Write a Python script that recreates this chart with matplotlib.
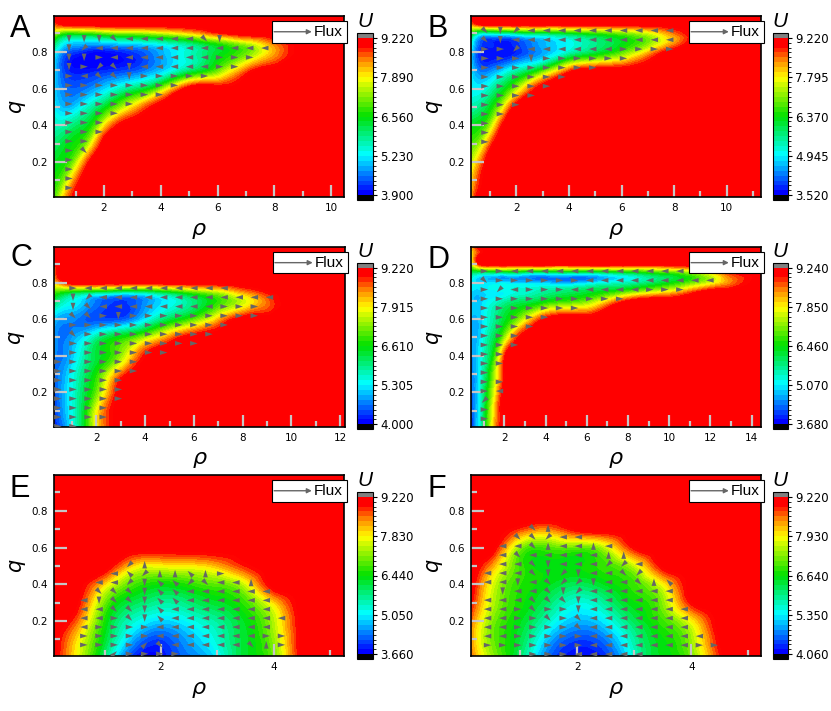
import numpy as np
import matplotlib
matplotlib.use("Agg")
import matplotlib.pyplot as plt
from matplotlib import colors, cm
from matplotlib.tri import Triangulation, UniformTriRefiner, LinearTriInterpolator
from matplotlib.ticker import MultipleLocator, FormatStrFormatter
from matplotlib.patches import Rectangle

# ---------------------------------------------------------------------------
# Potential landscape U(rho, q) on a coarse grid.
# Rows go from small q (bottom) to large q (top).  A row that stops early
# continues in the red plateau, i.e. at the top of the colour scale.
# ---------------------------------------------------------------------------
rho_A = [0.24, 0.5, 1.0, 1.5, 2, 3, 4, 5, 6, 7, 8, 9, 10.45]
q_A = [0.01, 0.1, 0.2, 0.3, 0.4, 0.5, 0.6, 0.7, 0.8, 0.85, 0.9, 0.95, 0.995]
U_A = [
    [6.8, 7.8, 9.1],
    [6.6, 7.0, 8.6],
    [6.4, 6.5, 7.4, 9.0],
    [6.0, 6.2, 6.6, 7.6],
    [5.6, 5.6, 6.0, 6.5, 7.9],
    [5.2, 4.9, 5.0, 5.6, 6.3, 8.0],
    [5.0, 4.6, 4.4, 4.6, 5.0, 5.9, 7.2],
    [5.0, 4.4, 3.95, 3.95, 4.05, 4.3, 4.9, 5.9, 7.0, 8.6],
    [5.4, 4.7, 4.2, 3.95, 3.9, 4.2, 4.8, 5.5, 6.3, 7.0, 8.3],
    [6.2, 5.4, 5.0, 4.9, 5.0, 5.2, 5.5, 6.0, 6.8, 7.6, 8.6],
    [7.4, 6.8, 6.6, 6.7, 7.0, 7.2, 7.5, 8.0, 8.8],
    [8.6, 9.0],
    [9.22],
]
ticks_A = [3.900, 5.230, 6.560, 7.890, 9.220]

rho_B = [0.28, 0.5, 1, 1.5, 2, 3, 4, 5, 6, 7, 8, 9, 11.3]
q_B = [0.01, 0.1, 0.2, 0.3, 0.4, 0.5, 0.6, 0.7, 0.8, 0.85, 0.9, 0.95, 0.995]
U_B = [
    [8.2, 9.0],
    [7.9, 8.6],
    [7.4, 8.0],
    [6.8, 7.0, 8.6],
    [6.2, 6.3, 7.2, 9.0],
    [5.4, 5.5, 6.2, 7.6],
    [5.0, 4.9, 5.3, 6.1, 7.2],
    [4.8, 4.3, 4.2, 4.7, 5.3, 6.6, 8.6],
    [4.8, 4.0, 3.6, 3.55, 3.7, 4.4, 5.2, 5.9, 6.7, 8.0],
    [5.2, 4.3, 3.7, 3.6, 3.8, 4.5, 5.0, 5.6, 6.2, 7.0, 8.3],
    [6.4, 5.5, 5.2, 5.3, 5.5, 5.8, 6.1, 6.5, 6.9, 7.5, 8.5],
    [8.2, 8.8],
    [9.22],
]
ticks_B = [3.520, 4.945, 6.370, 7.795, 9.220]

rho_C = [0.26, 0.5, 1, 1.5, 2, 3, 4, 5, 6, 7, 8, 9, 10, 12.2]
q_C = [0.01, 0.1, 0.2, 0.3, 0.4, 0.5, 0.6, 0.7, 0.75, 0.8, 0.85, 0.9, 0.995]
U_C = [
    [4.1, 4.4, 5.3, 6.4, 7.9],
    [4.2, 4.6, 5.4, 6.4, 7.8],
    [4.4, 4.7, 5.4, 6.2, 7.1, 9.2],
    [4.6, 4.7, 5.3, 6.0, 6.7, 8.6],
    [4.7, 4.6, 5.0, 5.7, 6.3, 7.3, 9.0],
    [4.8, 4.6, 4.8, 5.2, 5.8, 6.6, 7.4, 8.5],
    [5.0, 4.8, 4.7, 4.5, 4.4, 4.4, 5.2, 6.2, 7.0, 8.2],
    [6.2, 5.8, 5.4, 5.0, 4.6, 4.3, 4.7, 5.3, 6.0, 6.8, 7.6, 8.6],
    [7.0, 6.8, 6.5, 6.3, 6.2, 5.9, 6.0, 6.5, 7.1, 7.6, 8.4, 9.0],
    [8.0, 8.5],
    [8.4],
    [9.0],
    [9.22],
]
ticks_C = [4.000, 5.305, 6.610, 7.915, 9.220]

rho_D = [0.38, 0.7, 1, 1.5, 2, 3, 4, 6, 8, 10, 11, 12, 13, 14.46]
q_D = [0.01, 0.1, 0.2, 0.3, 0.4, 0.5, 0.6, 0.7, 0.75, 0.8, 0.85, 0.9, 0.95, 0.995]
U_D = [
    [3.9, 4.8, 5.9, 8.2],
    [4.1, 4.8, 5.9, 8.0],
    [4.3, 4.8, 5.8, 7.6],
    [4.4, 4.8, 5.6, 7.2, 9.0],
    [4.5, 4.8, 5.4, 6.6, 8.8],
    [4.6, 4.7, 5.2, 6.0, 7.2],
    [4.7, 4.7, 5.0, 5.6, 6.2, 7.6, 9.1],
    [4.8, 4.7, 4.9, 5.2, 5.5, 5.9, 6.3, 7.0, 9.0],
    [4.9, 4.8, 4.9, 5.0, 5.1, 5.3, 5.6, 6.1, 6.9, 7.9, 8.6],
    [5.0, 4.9, 4.9, 4.9, 4.9, 4.8, 4.7, 4.8, 5.4, 6.3, 6.9, 7.6, 8.5],
    [5.8, 5.5, 5.4, 5.4, 5.4, 5.3, 5.2, 5.3, 5.8, 6.5, 7.0, 7.8, 8.8],
    [7.2, 8.6],
    [7.8, 8.8],
    [8.2, 9.0],
]
ticks_D = [3.680, 5.070, 6.460, 7.850, 9.240]

rho_E = [0.1, 0.5, 1, 1.5, 2, 2.5, 3, 3.5, 4, 4.5, 5.25]
q_E = [0.01, 0.1, 0.2, 0.3, 0.4, 0.5, 0.6, 0.8, 0.995]
U_E = [
    [9.22, 7.8, 5.8, 3.9, 3.7, 4.3, 5.0, 6.2, 7.0, 9.22, 9.22],
    [9.22, 8.0, 6.2, 4.6, 4.0, 4.6, 5.3, 6.2, 7.2, 9.22, 9.22],
    [9.22, 8.6, 6.5, 5.3, 4.8, 5.1, 5.6, 6.3, 7.4, 9.22, 9.22],
    [9.22, 9.1, 7.0, 6.0, 5.6, 5.8, 6.2, 6.7, 8.0, 9.22, 9.22],
    [9.22, 9.22, 8.0, 6.8, 6.4, 6.6, 6.9, 7.6, 9.22, 9.22, 9.22],
    [9.22, 9.22, 9.22, 8.0, 7.8, 7.9, 8.2, 8.9, 9.22, 9.22, 9.22],
    [9.22, 9.22, 9.22, 9.22, 9.22, 9.22, 9.22, 9.22, 9.22, 9.22, 9.22],
    [9.22, 9.22, 9.22, 9.22, 9.22, 9.22, 9.22, 9.22, 9.22, 9.22, 9.22],
    [9.22, 9.22, 9.22, 9.22, 9.22, 9.22, 9.22, 9.22, 9.22, 9.22, 9.22],
]
ticks_E = [3.660, 5.050, 6.440, 7.830, 9.220]

rho_F = [0.14, 0.5, 1, 1.5, 2, 2.5, 3, 3.5, 4, 4.5, 5.22]
q_F = [0.01, 0.1, 0.2, 0.3, 0.4, 0.5, 0.6, 0.7, 0.8, 0.995]
U_F = [
    [8.6, 7.4, 6.1, 4.6, 4.1, 4.3, 5.6, 6.5, 7.2, 8.9, 9.22],
    [8.4, 7.2, 6.3, 5.0, 4.4, 4.7, 5.8, 6.6, 7.4, 9.1, 9.22],
    [8.6, 7.3, 6.5, 5.6, 5.0, 5.3, 6.2, 6.9, 7.9, 9.22, 9.22],
    [9.0, 7.6, 6.7, 6.1, 5.5, 5.9, 6.6, 7.3, 9.0, 9.22, 9.22],
    [9.22, 7.8, 6.8, 6.5, 6.2, 6.5, 6.9, 7.9, 9.22, 9.22, 9.22],
    [9.22, 8.4, 6.9, 6.6, 6.6, 6.9, 7.6, 9.1, 9.22, 9.22, 9.22],
    [9.22, 9.22, 7.3, 7.0, 7.1, 7.6, 9.0, 9.22, 9.22, 9.22, 9.22],
    [9.22, 9.22, 8.8, 8.5, 9.1, 9.22, 9.22, 9.22, 9.22, 9.22, 9.22],
    [9.22, 9.22, 9.22, 9.22, 9.22, 9.22, 9.22, 9.22, 9.22, 9.22, 9.22],
    [9.22, 9.22, 9.22, 9.22, 9.22, 9.22, 9.22, 9.22, 9.22, 9.22, 9.22],
]
ticks_F = [4.060, 5.350, 6.640, 7.930, 9.220]

# ---------------------------------------------------------------------------
# Flux arrows, one string per row of the arrow grid (top row first).
# Numpad codes: 6 right, 4 left, 8 up, 2 down, 9/7/1/3 diagonals, '.' none.
# Grid: (first rho, rho step, lowest q, q step)
# ---------------------------------------------------------------------------
flux_A = ["22234444432", "21444444444444", "2264444444666", "261324444466",
          "6433266666", "66666666", "6666666", "66666", "6666", "666", "666",
          "66", "63", "6", "6", "6", "6"]
grid_A = (0.77, 0.53, 0.06, 0.0507)

flux_B = ["3214444444444", "3244444444444", "6614444446666", "6662666666",
          "66666666", "666666", "66666", "6666", "666", "66", "6", "6", "6"]
grid_B = (0.81, 0.585, 0.31, 0.0505)

flux_C = [".64444444444", ".21444444444444", ".2344444444666", ".3362666666666",
          ".66666666666", ".3666666666", ".666666666", ".6666666", "666666",
          "666666", "66666", "66666", "66666", "6666", "6666", "66"]
grid_C = (0.42, 0.62, 0.014, 0.0504)

flux_D = ["66444444444444", "3666666444444444", "61466644444666", "6666666666",
          "6666666", "66666", "6666", "666", "666", "66", "66", "6", "66", "64",
          "1", "6", "6"]
grid_D = (1.03, 0.73, 0.055, 0.0505)

flux_E = ["...18", "..47188786", ".44127713448", ".333277444444", "4233277444444",
          "4433274444444", "44632744444444", "4666644444444", "66666444444466",
          "66669344444386", "..96666"]
grid_E = (0.63, 0.27, 0.022, 0.0485)

flux_F = ["...38", "..33144", ".44384484", ".434444488", ".4432444114",
          "44432124431", "4424311244387", ".244321444444", "4443332444444",
          "44636624444444", "44663634444444", "44666634444444", "446666644444444",
          "6666666444444466", "...66644444"]
grid_F = (0.43, 0.265, 0.02, 0.049)

panels = [
    ("A", rho_A, q_A, U_A, ticks_A, flux_A, grid_A),
    ("B", rho_B, q_B, U_B, ticks_B, flux_B, grid_B),
    ("C", rho_C, q_C, U_C, ticks_C, flux_C, grid_C),
    ("D", rho_D, q_D, U_D, ticks_D, flux_D, grid_D),
    ("E", rho_E, q_E, U_E, ticks_E, flux_E, grid_E),
    ("F", rho_F, q_F, U_F, ticks_F, flux_F, grid_F),
]

ANGLE = {"6": 0, "9": 45, "8": 90, "7": 135, "4": 180, "1": 225, "2": 270, "3": 315}
ARROW = "#666666"

base = colors.LinearSegmentedColormap.from_list(
    "u_rainbow",
    [(0.0, "#0000ff"), (0.25, "#00ffff"), (0.5, "#00e000"), (0.75, "#ffff00"),
     (0.87, "#ff8000"), (0.96, "#ff0000"), (1.0, "#ff0000")])
cmap_plot = base.copy()
cmap_plot.set_under("#0000ff")
cmap_plot.set_over("#ff0000")
cmap_bar = base.copy()
cmap_bar.set_under("black")
cmap_bar.set_over("#808080")


def smooth_field(rho, q, rows, top):
    rho = np.asarray(rho, float)
    q = np.asarray(q, float)
    Z = np.array([list(r) + [top] * (len(rho) - len(r)) for r in rows], float)
    Z = np.minimum(Z, top)
    X, Y = np.meshgrid(rho, q)
    nx, ny = len(rho), len(q)
    idx = np.arange(nx * ny).reshape(ny, nx)
    a = idx[:-1, :-1].ravel()
    b = idx[:-1, 1:].ravel()
    c = idx[1:, 1:].ravel()
    d = idx[1:, :-1].ravel()
    tris = np.concatenate([np.stack([a, b, c], 1), np.stack([a, c, d], 1)])
    span = rho[-1] - rho[0]
    tri_n = Triangulation((X.ravel() - rho[0]) / span, Y.ravel(), tris)
    refiner = UniformTriRefiner(tri_n)
    fine, z_cub = refiner.refine_field(Z.ravel(), subdiv=3)
    _, z_lin = refiner.refine_field(
        Z.ravel(), triinterpolator=LinearTriInterpolator(tri_n, Z.ravel()), subdiv=3)
    # keep the flat red plateau flat: no cubic ripples where the data is at the top
    zf = np.where(z_lin >= top - 1e-9, top, np.minimum(z_cub, top))
    return Triangulation(fine.x * span + rho[0], fine.y, fine.triangles), zf


def draw_flux(ax, rows, grid):
    rho0, drho, q0, dq = grid
    xs, ys, ang = [], [], []
    n = len(rows)
    for i, row in enumerate(rows):
        for k, ch in enumerate(row):
            if ch in ANGLE:
                xs.append(rho0 + drho * k)
                ys.append(q0 + dq * (n - 1 - i))
                ang.append(np.deg2rad(ANGLE[ch]))
    ang = np.array(ang)
    ax.quiver(xs, ys, np.cos(ang), np.sin(ang), angles="uv", pivot="middle",
              units="dots", scale_units="dots", scale=1 / 7.5, width=0.5,
              headwidth=9.5, headlength=15, headaxislength=15,
              color=ARROW, zorder=3)


W, H = 831, 711
fig = plt.figure(figsize=(W / 100, H / 100), dpi=100)


def rect(l, t, r, b):
    return [l / W, 1 - b / H, (r - l) / W, (b - t) / H]


ax_px = [(54, 16, 344, 197), (471, 16, 761, 197),
         (54, 247, 345, 427), (471, 247, 761, 427),
         (54, 475, 344, 656), (471, 475, 761, 656)]
cb_x = [(357, 373), (773, 788)]
cb_y = [(33, 200), (263, 429), (492, 659)]
letter_pos = [(10, 14), (427, 14), (10, 243), (427, 245), (10, 474), (427, 474)]

for i, (name, rho, q, rows, ticks, flux, grid) in enumerate(panels):
    ax = fig.add_axes(rect(*ax_px[i]))
    vmin, vmax = ticks[0], ticks[-1]
    levels = np.linspace(vmin, vmax, 33)
    tri, zf = smooth_field(rho, q, rows, vmax)
    ax.tricontourf(tri, zf, levels=levels, cmap=cmap_plot, extend="both", zorder=1)
    draw_flux(ax, flux, grid)
    ax.set_xlim(rho[0], rho[-1])
    ax.set_ylim(0.01, 0.995)

    ax.xaxis.set_major_locator(MultipleLocator(2))
    ax.xaxis.set_minor_locator(MultipleLocator(1))
    ax.yaxis.set_major_locator(MultipleLocator(0.2))
    ax.yaxis.set_minor_locator(MultipleLocator(0.1))
    ax.yaxis.set_major_formatter(FormatStrFormatter("%.1f"))
    ax.tick_params(which="both", direction="in", color="#c6c6c6", width=1.6,
                   labelsize=7.5, pad=4.5)
    ax.tick_params(which="major", length=9)
    ax.tick_params(which="minor", length=4.5)
    for sp in ax.spines.values():
        sp.set_linewidth(1.2)

    ax.text(0.5, -0.175, "ρ", transform=ax.transAxes, ha="center", va="center",
            fontsize=16, style="italic")
    ax.text(-0.136, 0.5, "q", transform=ax.transAxes, ha="center", va="center",
            rotation=90, fontsize=15, style="italic")

    # "Flux" key
    ax.add_patch(Rectangle((0.752, 0.853), 0.257, 0.12, transform=ax.transAxes,
                           facecolor="white", edgecolor="black", lw=0.8,
                           clip_on=False, zorder=6))
    ax.annotate("", xy=(0.889, 0.913), xytext=(0.759, 0.913),
                xycoords="axes fraction", zorder=7,
                arrowprops=dict(arrowstyle="-|>", color=ARROW, lw=1.0,
                                mutation_scale=7, shrinkA=0, shrinkB=0))
    ax.text(0.897, 0.91, "Flux", transform=ax.transAxes, ha="left", va="center",
            fontsize=11, family="Liberation Sans", zorder=7)

    # colour bar
    col, row = i % 2, i // 2
    cx0, cx1 = cb_x[col]
    cy0, cy1 = cb_y[row]
    cax = fig.add_axes(rect(cx0, cy0, cx1, cy1))
    sm = cm.ScalarMappable(norm=colors.BoundaryNorm(levels, cmap_bar.N), cmap=cmap_bar)
    cb = fig.colorbar(sm, cax=cax, extend="both", extendrect=True,
                      extendfrac=0.03, ticks=ticks)
    cb.ax.yaxis.set_major_formatter(FormatStrFormatter("%.3f"))
    cb.ax.tick_params(labelsize=8.5, length=3, width=0.8, pad=2)
    cb.outline.set_linewidth(0.8)
    fig.text((cx0 + cx1) / 2 / W, 1 - (cy0 - 2) / H, "U", ha="center", va="bottom",
             fontsize=15, style="italic", family="Liberation Sans")

    lx, ly = letter_pos[i]
    fig.text(lx / W, 1 - ly / H, name, ha="left", va="top", fontsize=22,
             family="Liberation Sans")

fig.savefig("out.png", dpi=100)
